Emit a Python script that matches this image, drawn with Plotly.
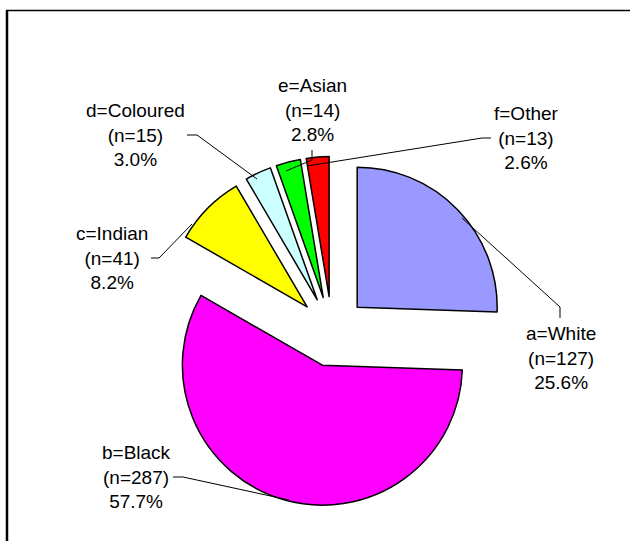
import plotly.graph_objects as go

# Population groups and counts
groups = ["a=White", "b=Black", "c=Indian", "d=Coloured", "e=Asian", "f=Other"]
counts = [127, 287, 41, 15, 14, 13]
colors = ["#9999FF", "#FF00FF", "#FFFF00", "#CCFFFF", "#00FF00", "#FF0000"]

W, H = 630, 541
total = sum(counts)


def px(x):
    return x / W


def py(y):
    return 1 - y / H


fig = go.Figure(
    go.Pie(
        labels=groups,
        values=counts,
        sort=False,
        direction="clockwise",
        rotation=0,
        pull=[0.25] * len(counts),
        marker=dict(colors=colors, line=dict(color="black", width=1.5)),
        textinfo="none",
        hoverinfo="label+value+percent",
        showlegend=False,
        domain=dict(x=[px(332 - 175), px(332 + 175)], y=[py(331.5 + 175), py(331.5 - 175)]),
    )
)

# Label block centres (pixels) and leader-line polylines
label_pos = {
    "a=White": (561, 358),
    "b=Black": (136, 477),
    "c=Indian": (112, 258),
    "d=Coloured": (135, 135),
    "e=Asian": (312, 110),
    "f=Other": (526, 138),
}
leaders = {
    "a=White": [(560, 318), (560, 307), (462, 218)],
    "b=Black": [(173, 477), (183, 477), (289, 500)],
    "c=Indian": [(151, 258), (159, 258), (192, 224)],
    "d=Coloured": [(187, 135), (197, 135), (257, 179)],
    "e=Asian": [(312, 150), (312, 160), (286, 171)],
    "f=Other": [(491, 138), (482, 138), (307, 166)],
}

annotations = []
shapes = []
for g, n in zip(groups, counts):
    pct = 100 * n / total
    x, y = label_pos[g]
    annotations.append(
        dict(
            x=px(x), y=py(y), xref="paper", yref="paper",
            text=f"{g}<br>(n={n})<br>{pct:.1f}%",
            showarrow=False, xanchor="center", yanchor="middle", align="center",
            font=dict(family="Arial, Liberation Sans", size=19, color="black"),
        )
    )
    pts = leaders[g]
    path = "M " + " L ".join(f"{px(a)},{py(b)}" for a, b in pts)
    shapes.append(dict(type="path", path=path, xref="paper", yref="paper",
                       line=dict(color="black", width=1)))

# Chart frame: left and top edges
shapes.append(dict(type="line", xref="paper", yref="paper",
                   x0=px(7), y0=py(10.5), x1=px(7), y1=0,
                   line=dict(color="black", width=2.5), layer="below"))
shapes.append(dict(type="line", xref="paper", yref="paper",
                   x0=px(6), y0=py(10.5), x1=1, y1=py(10.5),
                   line=dict(color="black", width=1.5), layer="below"))

fig.update_layout(
    width=W, height=H,
    margin=dict(l=0, r=0, t=0, b=0),
    paper_bgcolor="white", plot_bgcolor="white",
    annotations=annotations, shapes=shapes,
)

fig.write_html("out.html")
